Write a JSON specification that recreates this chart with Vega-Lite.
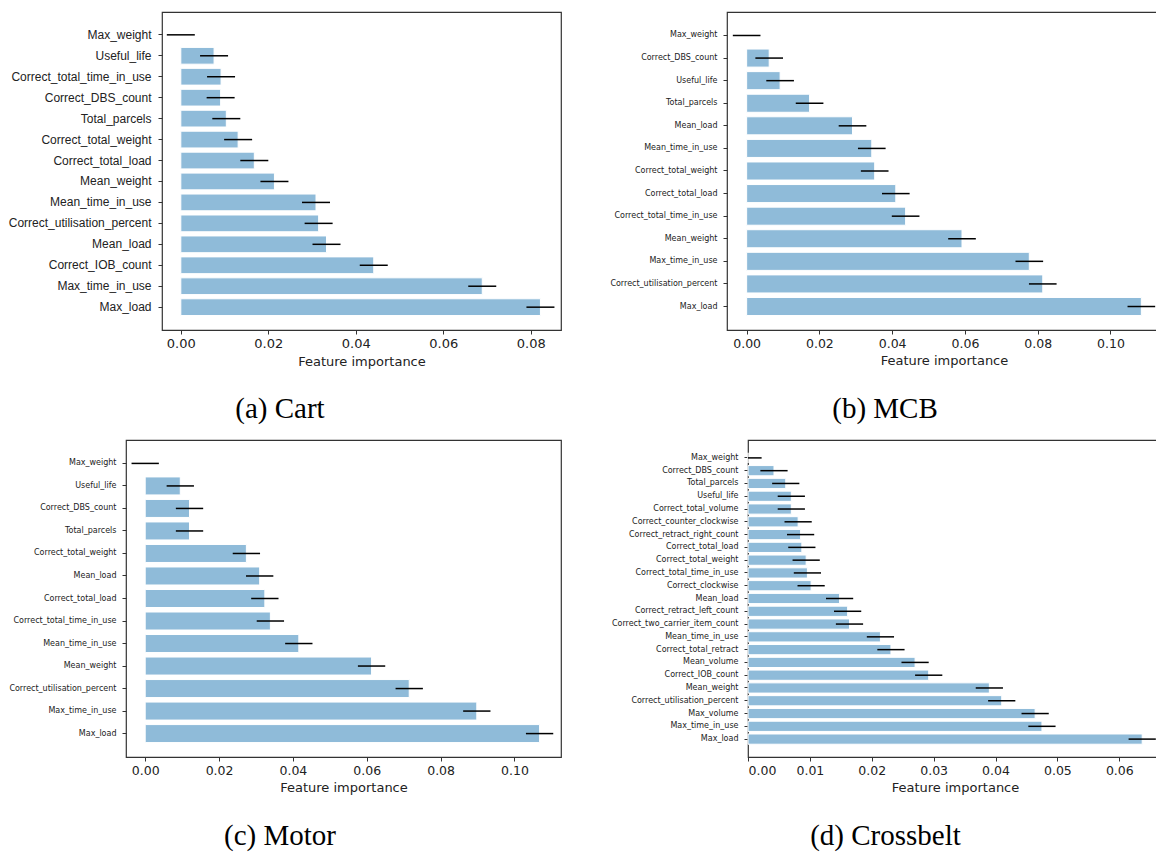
{
  "$schema": "https://vega.github.io/schema/vega-lite/v6.json",
  "padding": {"left": -49, "top": 11, "right": 0, "bottom": 0},
  "background": "white",
  "config": {
    "view": {"stroke": "#333333", "strokeWidth": 1.2},
    "axis": {"grid": false, "domain": false, "tickColor": "#333333", "tickSize": 4, "labelColor": "#222222", "titleColor": "#222222", "titleFont": "DejaVu Sans", "titleFontSize": 13, "titleFontWeight": "normal"},
    "axisX": {"labelFont": "DejaVu Sans", "labelFontSize": 13, "labelPadding": 3, "titlePadding": 5, "format": ".2f"},
    "title": {"font": "Liberation Serif", "fontSize": 29, "fontWeight": "normal", "color": "#000000", "orient": "bottom", "frame": "bounds", "anchor": "middle", "offset": 27}
  },
  "datasets": {
    "cart": [
      {"feature": "Max_weight", "importance": 0.0, "err": 0.0032},
      {"feature": "Useful_life", "importance": 0.0076, "err": 0.0032},
      {"feature": "Correct_total_time_in_use", "importance": 0.0092, "err": 0.0032},
      {"feature": "Correct_DBS_count", "importance": 0.0091, "err": 0.0032},
      {"feature": "Total_parcels", "importance": 0.0104, "err": 0.0032},
      {"feature": "Correct_total_weight", "importance": 0.0131, "err": 0.0032},
      {"feature": "Correct_total_load", "importance": 0.0168, "err": 0.0032},
      {"feature": "Mean_weight", "importance": 0.0214, "err": 0.0032},
      {"feature": "Mean_time_in_use", "importance": 0.0309, "err": 0.0032},
      {"feature": "Correct_utilisation_percent", "importance": 0.0315, "err": 0.0032},
      {"feature": "Mean_load", "importance": 0.0333, "err": 0.0032},
      {"feature": "Correct_IOB_count", "importance": 0.0441, "err": 0.0032},
      {"feature": "Max_time_in_use", "importance": 0.0689, "err": 0.0032},
      {"feature": "Max_load", "importance": 0.0822, "err": 0.0032}
    ],
    "mcb": [
      {"feature": "Max_weight", "importance": 0.0, "err": 0.0038},
      {"feature": "Correct_DBS_count", "importance": 0.0062, "err": 0.0038},
      {"feature": "Useful_life", "importance": 0.0092, "err": 0.0038},
      {"feature": "Total_parcels", "importance": 0.0173, "err": 0.0038},
      {"feature": "Mean_load", "importance": 0.0291, "err": 0.0038},
      {"feature": "Mean_time_in_use", "importance": 0.0344, "err": 0.0038},
      {"feature": "Correct_total_weight", "importance": 0.0352, "err": 0.0038},
      {"feature": "Correct_total_load", "importance": 0.041, "err": 0.0038},
      {"feature": "Correct_total_time_in_use", "importance": 0.0437, "err": 0.0038},
      {"feature": "Mean_weight", "importance": 0.0592, "err": 0.0038},
      {"feature": "Max_time_in_use", "importance": 0.0777, "err": 0.0038},
      {"feature": "Correct_utilisation_percent", "importance": 0.0814, "err": 0.0038},
      {"feature": "Max_load", "importance": 0.1085, "err": 0.0038}
    ],
    "motor": [
      {"feature": "Max_weight", "importance": 0.0, "err": 0.0037},
      {"feature": "Useful_life", "importance": 0.0095, "err": 0.0037},
      {"feature": "Correct_DBS_count", "importance": 0.012, "err": 0.0037},
      {"feature": "Total_parcels", "importance": 0.012, "err": 0.0037},
      {"feature": "Correct_total_weight", "importance": 0.0274, "err": 0.0037},
      {"feature": "Mean_load", "importance": 0.031, "err": 0.0037},
      {"feature": "Correct_total_load", "importance": 0.0324, "err": 0.0037},
      {"feature": "Correct_total_time_in_use", "importance": 0.0339, "err": 0.0037},
      {"feature": "Mean_time_in_use", "importance": 0.0416, "err": 0.0037},
      {"feature": "Mean_weight", "importance": 0.0613, "err": 0.0037},
      {"feature": "Correct_utilisation_percent", "importance": 0.0715, "err": 0.0037},
      {"feature": "Max_time_in_use", "importance": 0.0898, "err": 0.0037},
      {"feature": "Max_load", "importance": 0.1068, "err": 0.0037}
    ],
    "crossbelt": [
      {"feature": "Max_weight", "importance": 0.0, "err": 0.0022},
      {"feature": "Correct_DBS_count", "importance": 0.0042, "err": 0.0022},
      {"feature": "Total_parcels", "importance": 0.0061, "err": 0.0022},
      {"feature": "Useful_life", "importance": 0.007, "err": 0.0022},
      {"feature": "Correct_total_volume", "importance": 0.007, "err": 0.0022},
      {"feature": "Correct_counter_clockwise", "importance": 0.0081, "err": 0.0022},
      {"feature": "Correct_retract_right_count", "importance": 0.0085, "err": 0.0022},
      {"feature": "Correct_total_load", "importance": 0.0087, "err": 0.0022},
      {"feature": "Correct_total_weight", "importance": 0.0094, "err": 0.0022},
      {"feature": "Correct_total_time_in_use", "importance": 0.0096, "err": 0.0022},
      {"feature": "Correct_clockwise", "importance": 0.0102, "err": 0.0022},
      {"feature": "Mean_load", "importance": 0.0148, "err": 0.0022},
      {"feature": "Correct_retract_left_count", "importance": 0.0161, "err": 0.0022},
      {"feature": "Correct_two_carrier_item_count", "importance": 0.0164, "err": 0.0022},
      {"feature": "Mean_time_in_use", "importance": 0.0214, "err": 0.0022},
      {"feature": "Correct_total_retract", "importance": 0.0231, "err": 0.0022},
      {"feature": "Mean_volume", "importance": 0.027, "err": 0.0022},
      {"feature": "Correct_IOB_count", "importance": 0.0292, "err": 0.0022},
      {"feature": "Mean_weight", "importance": 0.039, "err": 0.0022},
      {"feature": "Correct_utilisation_percent", "importance": 0.041, "err": 0.0022},
      {"feature": "Max_volume", "importance": 0.0464, "err": 0.0022},
      {"feature": "Max_time_in_use", "importance": 0.0475, "err": 0.0022},
      {"feature": "Max_load", "importance": 0.0637, "err": 0.0022}
    ]
  },
  "spacing": 14,
  "vconcat": [
    {
      "spacing": 46,
      "hconcat": [
        {
          "width": 1, "height": 1,
          "view": {"stroke": null},
          "data": {"values": []},
          "mark": {"type": "point", "opacity": 0},
          "encoding": {}
        },
        {
          "width": 399, "height": 318,
          "title": {"text": "(a) Cart"},
          "data": {"name": "cart"},
          "encoding": {
            "y": {"field": "feature", "type": "nominal", "sort": null,
                  "scale": {"paddingInner": 0.2, "paddingOuter": 0.69},
                  "axis": {"title": null, "labelFont": "Liberation Sans", "labelFontSize": 12, "labelPadding": 7, "minExtent": 163, "maxExtent": 163}}
          },
          "layer": [
            {"mark": {"type": "bar", "color": "#8fbbd9", "stroke": "white", "strokeWidth": 1},
             "encoding": {"x": {"field": "importance", "type": "quantitative", "title": "Feature importance",
                                "scale": {"domain": [-0.0043, 0.0869], "nice": false, "zero": false},
                                "axis": {"values": [0, 0.02, 0.04, 0.06, 0.08]}}}},
            {"mark": {"type": "errorbar", "color": "black", "thickness": 1.5},
             "encoding": {"x": {"field": "importance", "type": "quantitative", "title": "Feature importance"}, "xError": {"field": "err"}}}
          ]
        },
        {
          "width": 434, "height": 318,
          "title": {"text": "(b) MCB"},
          "data": {"name": "mcb"},
          "encoding": {
            "y": {"field": "feature", "type": "nominal", "sort": null,
                  "scale": {"paddingInner": 0.2, "paddingOuter": 0.64},
                  "axis": {"title": null, "labelFont": "DejaVu Sans", "labelFontSize": 8, "labelPadding": 6, "minExtent": 118, "maxExtent": 118}}
          },
          "layer": [
            {"mark": {"type": "bar", "color": "#8fbbd9", "stroke": "white", "strokeWidth": 1},
             "encoding": {"x": {"field": "importance", "type": "quantitative", "title": "Feature importance",
                                "scale": {"domain": [-0.0054, 0.1139], "nice": false, "zero": false},
                                "axis": {"values": [0, 0.02, 0.04, 0.06, 0.08, 0.1], "labelFontSize": 12.5}}}},
            {"mark": {"type": "errorbar", "color": "black", "thickness": 1.5},
             "encoding": {"x": {"field": "importance", "type": "quantitative", "title": "Feature importance"}, "xError": {"field": "err"}}}
          ]
        }
      ]
    },
    {
      "spacing": 46,
      "hconcat": [
        {
          "width": 1, "height": 1,
          "view": {"stroke": null},
          "data": {"values": []},
          "mark": {"type": "point", "opacity": 0},
          "encoding": {}
        },
        {
          "width": 435, "height": 317,
          "title": {"text": "(c) Motor"},
          "data": {"name": "motor"},
          "encoding": {
            "y": {"field": "feature", "type": "nominal", "sort": null,
                  "scale": {"paddingInner": 0.2, "paddingOuter": 0.64},
                  "axis": {"title": null, "labelFont": "DejaVu Sans", "labelFontSize": 8, "labelPadding": 6, "minExtent": 127, "maxExtent": 127}}
          },
          "layer": [
            {"mark": {"type": "bar", "color": "#8fbbd9", "stroke": "white", "strokeWidth": 1},
             "encoding": {"x": {"field": "importance", "type": "quantitative", "title": "Feature importance",
                                "scale": {"domain": [-0.0052, 0.1126], "nice": false, "zero": false},
                                "axis": {"values": [0, 0.02, 0.04, 0.06, 0.08, 0.1], "labelFontSize": 12.5}}}},
            {"mark": {"type": "errorbar", "color": "black", "thickness": 1.5},
             "encoding": {"x": {"field": "importance", "type": "quantitative", "title": "Feature importance"}, "xError": {"field": "err"}}}
          ]
        },
        {
          "width": 414, "height": 317,
          "title": {"text": "(d) Crossbelt"},
          "data": {"name": "crossbelt"},
          "encoding": {
            "y": {"field": "feature", "type": "nominal", "sort": null,
                  "scale": {"paddingInner": 0.2, "paddingOuter": 1.14},
                  "axis": {"title": null, "labelFont": "DejaVu Sans", "labelFontSize": 8, "labelPadding": 6, "minExtent": 139, "maxExtent": 139}}
          },
          "layer": [
            {"mark": {"type": "bar", "color": "#8fbbd9", "stroke": "white", "strokeWidth": 1},
             "encoding": {"x": {"field": "importance", "type": "quantitative", "title": "Feature importance",
                                "scale": {"domain": [0, 0.0669], "nice": false, "zero": false, "clamp": true},
                                "axis": {"values": [0, 0.01, 0.02, 0.03, 0.04, 0.05, 0.06], "labelFontSize": 12.5}}}},
            {"mark": {"type": "errorbar", "color": "black", "thickness": 1.5},
             "encoding": {"x": {"field": "importance", "type": "quantitative", "title": "Feature importance"}, "xError": {"field": "err"}}}
          ]
        }
      ]
    }
  ]
}
